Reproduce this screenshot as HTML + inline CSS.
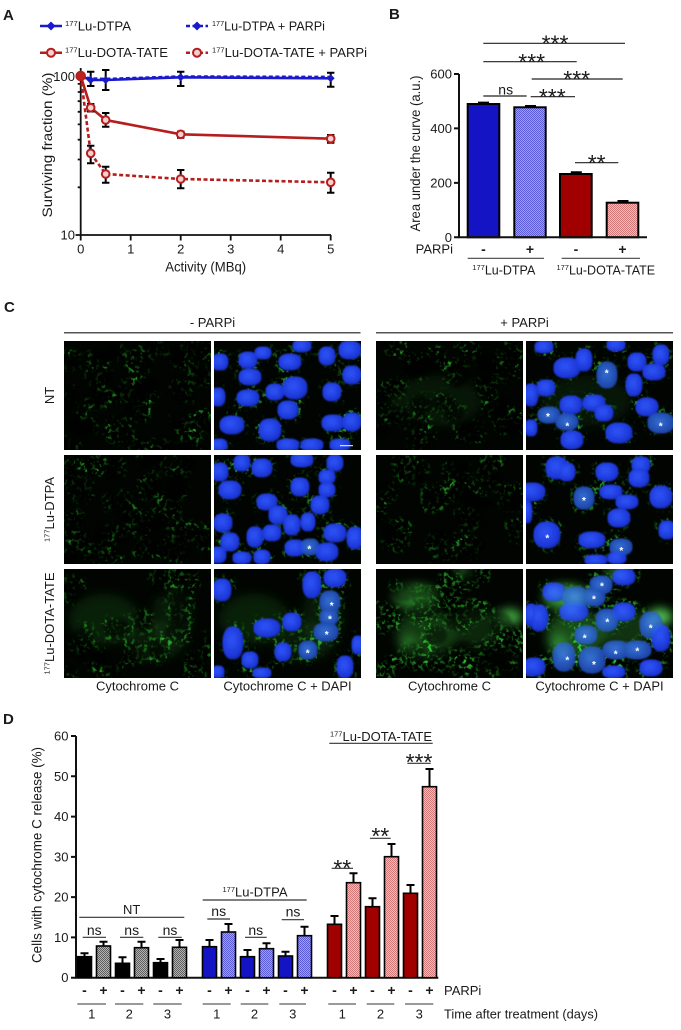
<!DOCTYPE html>
<html><head><meta charset="utf-8">
<style>
html,body{margin:0;padding:0;background:#fff;}
svg{display:block;}
text{font-family:"Liberation Sans",Arial,sans-serif;fill:#1a1a1a;}
.b{font-weight:bold;}
.st{fill:#fff;font-size:10px;font-weight:bold;text-anchor:middle;}
</style></head><body>
<svg width="681" height="1030" viewBox="0 0 681 1030" xmlns="http://www.w3.org/2000/svg">
<defs>
<pattern id="hb" width="2" height="2" patternUnits="userSpaceOnUse"><rect width="2" height="2" fill="#a2a2f4"/><rect width="1" height="1" fill="#5a5ad8"/><rect x="1" y="1" width="1" height="1" fill="#5a5ad8"/></pattern>
<pattern id="hp" width="2" height="2" patternUnits="userSpaceOnUse"><rect width="2" height="2" fill="#f4bcbc"/><rect width="1" height="1" fill="#d27878"/><rect x="1" y="1" width="1" height="1" fill="#d27878"/></pattern>
<pattern id="hg" width="2" height="2" patternUnits="userSpaceOnUse"><rect width="2" height="2" fill="#b4b4b4"/><rect width="1" height="1" fill="#5e5e5e"/><rect x="1" y="1" width="1" height="1" fill="#5e5e5e"/></pattern>
<radialGradient id="nuc" cx="0.42" cy="0.4" r="0.65"><stop offset="0" stop-color="#2c50f2"/><stop offset="0.75" stop-color="#1c36d6"/><stop offset="1" stop-color="#10208e"/></radialGradient>
<radialGradient id="nucd" cx="0.45" cy="0.45" r="0.65"><stop offset="0" stop-color="#3068cc"/><stop offset="0.75" stop-color="#1e46aa"/><stop offset="1" stop-color="#10286e"/></radialGradient>
<filter id="soft" x="-20%" y="-20%" width="140%" height="140%"><feMorphology operator="dilate" radius="1.6"/><feGaussianBlur stdDeviation="0.8"/></filter>
<filter id="blk" filterUnits="userSpaceOnUse" x="0" y="0" width="147" height="109"><feFlood flood-color="#000"/><feComposite in2="SourceAlpha" operator="in"/><feMorphology operator="dilate" radius="1"/><feGaussianBlur stdDeviation="1.5"/></filter>
<filter id="hz" filterUnits="userSpaceOnUse" x="-20" y="-20" width="187" height="149"><feGaussianBlur stdDeviation="5"/></filter>

<filter id="gN1" filterUnits="userSpaceOnUse" x="0" y="0" width="147" height="109" color-interpolation-filters="sRGB"><feMorphology in="SourceAlpha" operator="dilate" radius="4" result="d"/><feGaussianBlur in="d" stdDeviation="2.5" result="m"/><feTurbulence type="fractalNoise" baseFrequency="0.05" numOctaves="1" seed="4" result="t2"/><feColorMatrix in="t2" type="matrix" values="0 0 0 0 0 0 0 0 0 0 0 0 0 0 0 3.5 0 0 0 -1.3" result="c"/><feTurbulence type="fractalNoise" baseFrequency="0.25" numOctaves="2" seed="3" result="t"/><feColorMatrix in="t" type="matrix" values="0 0 0 0 0.16 0 0 0 0 0.72 0 0 0 0 0.16 5 0 0 0 -2.6" result="g"/><feComposite in="g" in2="c" operator="in" result="g2"/><feComposite in="g2" in2="m" operator="in"/></filter>
<filter id="gN2" filterUnits="userSpaceOnUse" x="0" y="0" width="147" height="109" color-interpolation-filters="sRGB"><feMorphology in="SourceAlpha" operator="dilate" radius="4" result="d"/><feGaussianBlur in="d" stdDeviation="2.5" result="m"/><feTurbulence type="fractalNoise" baseFrequency="0.05" numOctaves="1" seed="8" result="t2"/><feColorMatrix in="t2" type="matrix" values="0 0 0 0 0 0 0 0 0 0 0 0 0 0 0 3.5 0 0 0 -1.3" result="c"/><feTurbulence type="fractalNoise" baseFrequency="0.25" numOctaves="2" seed="7" result="t"/><feColorMatrix in="t" type="matrix" values="0 0 0 0 0.16 0 0 0 0 0.72 0 0 0 0 0.16 5 0 0 0 -2.6" result="g"/><feComposite in="g" in2="c" operator="in" result="g2"/><feComposite in="g2" in2="m" operator="in"/></filter>
<filter id="gN3" filterUnits="userSpaceOnUse" x="0" y="0" width="147" height="109" color-interpolation-filters="sRGB"><feMorphology in="SourceAlpha" operator="dilate" radius="4.5" result="d"/><feGaussianBlur in="d" stdDeviation="2.5" result="m"/><feTurbulence type="fractalNoise" baseFrequency="0.05" numOctaves="1" seed="14" result="t2"/><feColorMatrix in="t2" type="matrix" values="0 0 0 0 0 0 0 0 0 0 0 0 0 0 0 3.5 0 0 0 -1.2" result="c"/><feTurbulence type="fractalNoise" baseFrequency="0.25" numOctaves="2" seed="13" result="t"/><feColorMatrix in="t" type="matrix" values="0 0 0 0 0.16 0 0 0 0 0.72 0 0 0 0 0.16 5 0 0 0 -2.55" result="g"/><feComposite in="g" in2="c" operator="in" result="g2"/><feComposite in="g2" in2="m" operator="in"/></filter>
<filter id="gP1" filterUnits="userSpaceOnUse" x="0" y="0" width="147" height="109" color-interpolation-filters="sRGB"><feMorphology in="SourceAlpha" operator="dilate" radius="4" result="d"/><feGaussianBlur in="d" stdDeviation="2.5" result="m"/><feTurbulence type="fractalNoise" baseFrequency="0.05" numOctaves="1" seed="22" result="t2"/><feColorMatrix in="t2" type="matrix" values="0 0 0 0 0 0 0 0 0 0 0 0 0 0 0 3.5 0 0 0 -1.3" result="c"/><feTurbulence type="fractalNoise" baseFrequency="0.25" numOctaves="2" seed="21" result="t"/><feColorMatrix in="t" type="matrix" values="0 0 0 0 0.16 0 0 0 0 0.72 0 0 0 0 0.16 5 0 0 0 -2.65" result="g"/><feComposite in="g" in2="c" operator="in" result="g2"/><feComposite in="g2" in2="m" operator="in"/></filter>
<filter id="gP2" filterUnits="userSpaceOnUse" x="0" y="0" width="147" height="109" color-interpolation-filters="sRGB"><feMorphology in="SourceAlpha" operator="dilate" radius="4" result="d"/><feGaussianBlur in="d" stdDeviation="2.5" result="m"/><feTurbulence type="fractalNoise" baseFrequency="0.05" numOctaves="1" seed="30" result="t2"/><feColorMatrix in="t2" type="matrix" values="0 0 0 0 0 0 0 0 0 0 0 0 0 0 0 3.5 0 0 0 -1.3" result="c"/><feTurbulence type="fractalNoise" baseFrequency="0.25" numOctaves="2" seed="29" result="t"/><feColorMatrix in="t" type="matrix" values="0 0 0 0 0.16 0 0 0 0 0.72 0 0 0 0 0.16 5 0 0 0 -2.6" result="g"/><feComposite in="g" in2="c" operator="in" result="g2"/><feComposite in="g2" in2="m" operator="in"/></filter>
<filter id="gP3" filterUnits="userSpaceOnUse" x="0" y="0" width="147" height="109" color-interpolation-filters="sRGB"><feMorphology in="SourceAlpha" operator="dilate" radius="4.5" result="d"/><feGaussianBlur in="d" stdDeviation="2.5" result="m"/><feTurbulence type="fractalNoise" baseFrequency="0.05" numOctaves="1" seed="38" result="t2"/><feColorMatrix in="t2" type="matrix" values="0 0 0 0 0 0 0 0 0 0 0 0 0 0 0 3.5 0 0 0 -1.2" result="c"/><feTurbulence type="fractalNoise" baseFrequency="0.25" numOctaves="2" seed="37" result="t"/><feColorMatrix in="t" type="matrix" values="0 0 0 0 0.18 0 0 0 0 0.76 0 0 0 0 0.18 5 0 0 0 -2.5" result="g"/><feComposite in="g" in2="c" operator="in" result="g2"/><feComposite in="g2" in2="m" operator="in"/></filter>

<g id="nN1" fill="url(#nuc)">
<ellipse cx="6" cy="21" rx="7" ry="7"/><ellipse cx="34" cy="19" rx="8" ry="7"/><ellipse cx="49" cy="12" rx="7" ry="5"/><ellipse cx="36" cy="36" rx="10" ry="7"/><ellipse cx="76" cy="21" rx="10" ry="7"/><ellipse cx="88" cy="5" rx="8" ry="5"/><ellipse cx="113" cy="15" rx="7" ry="8"/><ellipse cx="136" cy="9" rx="10" ry="8"/><ellipse cx="138" cy="34" rx="8" ry="8"/><ellipse cx="4" cy="56" rx="6" ry="8"/><ellipse cx="34" cy="57" rx="10" ry="7"/><ellipse cx="61" cy="51" rx="8" ry="7"/><ellipse cx="81" cy="47" rx="11" ry="10"/><ellipse cx="74" cy="69" rx="9" ry="8"/><ellipse cx="118" cy="51" rx="8" ry="8"/><ellipse cx="18" cy="84" rx="11" ry="8"/><ellipse cx="56" cy="89" rx="10" ry="10"/><ellipse cx="119" cy="82" rx="10" ry="7"/><ellipse cx="138" cy="81" rx="8" ry="8"/><ellipse cx="74" cy="104" rx="10" ry="5"/><ellipse cx="98" cy="104" rx="10" ry="5"/><ellipse cx="126" cy="104" rx="9" ry="5"/><ellipse cx="5" cy="104" rx="7" ry="5"/>
</g>
<g id="nN2" fill="url(#nuc)">
<ellipse cx="6" cy="17" rx="7" ry="8"/><ellipse cx="28" cy="8" rx="7" ry="7"/><ellipse cx="48" cy="13" rx="9" ry="8"/><ellipse cx="88" cy="5" rx="10" ry="6"/><ellipse cx="121" cy="8" rx="7" ry="7"/><ellipse cx="16" cy="35" rx="10" ry="8"/><ellipse cx="53" cy="47" rx="9" ry="7"/><ellipse cx="86" cy="32" rx="8" ry="8"/><ellipse cx="113" cy="22" rx="7" ry="6"/><ellipse cx="113" cy="35" rx="7" ry="6"/><ellipse cx="106" cy="50" rx="8" ry="8"/><ellipse cx="64" cy="60" rx="8" ry="8"/><ellipse cx="9" cy="68" rx="8" ry="8"/><ellipse cx="41" cy="82" rx="7" ry="9"/><ellipse cx="58" cy="78" rx="8" ry="7"/><ellipse cx="78" cy="70" rx="7" ry="9"/><ellipse cx="94" cy="67" rx="6" ry="8"/><ellipse cx="121" cy="78" rx="10" ry="8"/><ellipse cx="16" cy="87" rx="8" ry="8"/><ellipse cx="81" cy="93" rx="9" ry="7"/><ellipse cx="96" cy="92" rx="8" ry="7" fill="url(#nucd)"/><ellipse cx="113" cy="97" rx="10" ry="8"/><ellipse cx="141" cy="83" rx="7" ry="10"/><ellipse cx="4" cy="100" rx="7" ry="7"/><ellipse cx="28" cy="103" rx="8" ry="5"/><ellipse cx="48" cy="102" rx="7" ry="6"/>
</g>
<g id="nN3" fill="url(#nuc)">
<ellipse cx="8" cy="21" rx="8" ry="10"/><ellipse cx="98" cy="16" rx="8" ry="12"/><ellipse cx="121" cy="9" rx="10" ry="8"/><ellipse cx="53" cy="59" rx="12" ry="8"/><ellipse cx="78" cy="53" rx="8" ry="8"/><ellipse cx="19" cy="74" rx="9" ry="15"/><ellipse cx="36" cy="91" rx="7" ry="7"/><ellipse cx="69" cy="83" rx="7" ry="8"/><ellipse cx="94" cy="81" rx="8" ry="8" fill="url(#nucd)"/><ellipse cx="112" cy="63" rx="11" ry="8" fill="url(#nucd)"/><ellipse cx="116" cy="33" rx="9" ry="10" fill="url(#nucd)"/><ellipse cx="115" cy="48" rx="8" ry="7" fill="url(#nucd)"/><ellipse cx="131" cy="98" rx="7" ry="10"/><ellipse cx="144" cy="76" rx="5" ry="8"/><ellipse cx="48" cy="104" rx="8" ry="4"/><ellipse cx="4" cy="103" rx="5" ry="5"/>
</g>
<g id="nP1" fill="url(#nuc)">
<ellipse cx="41" cy="27" rx="12" ry="9"/><ellipse cx="58" cy="19" rx="7" ry="10"/><ellipse cx="20" cy="47" rx="8" ry="7"/><ellipse cx="81" cy="34" rx="9" ry="12" fill="url(#nucd)"/><ellipse cx="108" cy="44" rx="7" ry="10"/><ellipse cx="111" cy="21" rx="8" ry="8"/><ellipse cx="128" cy="31" rx="10" ry="7"/><ellipse cx="135" cy="14" rx="7" ry="9"/><ellipse cx="5" cy="54" rx="6" ry="10"/><ellipse cx="68" cy="62" rx="10" ry="7"/><ellipse cx="45" cy="64" rx="10" ry="8"/><ellipse cx="78" cy="72" rx="8" ry="7"/><ellipse cx="121" cy="66" rx="10" ry="8"/><ellipse cx="23" cy="74" rx="10" ry="7" fill="url(#nucd)"/><ellipse cx="41" cy="81" rx="10" ry="7" fill="url(#nucd)"/><ellipse cx="135" cy="82" rx="12" ry="9" fill="url(#nucd)"/><ellipse cx="93" cy="92" rx="12" ry="9"/><ellipse cx="46" cy="99" rx="10" ry="8"/><ellipse cx="5" cy="87" rx="5" ry="7"/><ellipse cx="90" cy="4" rx="8" ry="5"/><ellipse cx="18" cy="6" rx="8" ry="5"/>
</g>
<g id="nP2" fill="url(#nuc)">
<ellipse cx="31" cy="13" rx="10" ry="10"/><ellipse cx="41" cy="17" rx="7" ry="8"/><ellipse cx="6" cy="37" rx="12" ry="8"/><ellipse cx="1" cy="57" rx="4" ry="10"/><ellipse cx="58" cy="43" rx="9" ry="10" fill="url(#nucd)"/><ellipse cx="81" cy="17" rx="10" ry="8"/><ellipse cx="85" cy="37" rx="10" ry="6"/><ellipse cx="101" cy="47" rx="10" ry="6"/><ellipse cx="113" cy="23" rx="9" ry="8"/><ellipse cx="115" cy="10" rx="8" ry="7"/><ellipse cx="135" cy="42" rx="10" ry="10"/><ellipse cx="93" cy="63" rx="10" ry="8"/><ellipse cx="21" cy="80" rx="12" ry="12"/><ellipse cx="66" cy="85" rx="12" ry="7"/><ellipse cx="95" cy="92" rx="10" ry="7" fill="url(#nucd)"/><ellipse cx="141" cy="75" rx="7" ry="8"/><ellipse cx="70" cy="105" rx="10" ry="4"/><ellipse cx="91" cy="103" rx="8" ry="5"/>
</g>
<g id="nP3" fill="url(#nucd)">
<ellipse cx="75" cy="16" rx="10" ry="8"/><ellipse cx="98" cy="8" rx="10" ry="7" fill="url(#nuc)"/><ellipse cx="28" cy="23" rx="10" ry="8" fill="url(#nuc)"/><ellipse cx="50" cy="29" rx="12" ry="10"/><ellipse cx="68" cy="28" rx="10" ry="8"/><ellipse cx="13" cy="49" rx="8" ry="12" fill="url(#nuc)"/><ellipse cx="48" cy="43" rx="13" ry="8" fill="url(#nuc)"/><ellipse cx="81" cy="51" rx="10" ry="10"/><ellipse cx="98" cy="43" rx="10" ry="8" fill="url(#nuc)"/><ellipse cx="125" cy="56" rx="10" ry="12"/><ellipse cx="5" cy="46" rx="5" ry="10" fill="url(#nuc)"/><ellipse cx="60" cy="66" rx="10" ry="8"/><ellipse cx="38" cy="88" rx="10" ry="13"/><ellipse cx="66" cy="91" rx="12" ry="12"/><ellipse cx="90" cy="81" rx="12" ry="8"/><ellipse cx="111" cy="81" rx="13" ry="8"/><ellipse cx="135" cy="69" rx="8" ry="12" fill="url(#nuc)"/><ellipse cx="8" cy="98" rx="10" ry="8" fill="url(#nuc)"/><ellipse cx="125" cy="99" rx="10" ry="7" fill="url(#nuc)"/><ellipse cx="88" cy="103" rx="10" ry="5" fill="url(#nuc)"/>
</g>
<g id="dN3" filter="url(#hz)" fill="#2a8a2a">
<ellipse cx="40" cy="50" rx="35" ry="25" opacity=".2"/><ellipse cx="90" cy="72" rx="30" ry="20" opacity=".16"/><ellipse cx="108" cy="48" rx="20" ry="30" opacity=".16"/>
</g>
<g id="dP1" filter="url(#hz)" fill="#2a8a2a">
<ellipse cx="60" cy="60" rx="45" ry="25" opacity=".14"/>
</g>
<g id="dP3" filter="url(#hz)">
<ellipse cx="40" cy="28" rx="22" ry="12" fill="#44cc44" opacity=".6"/><ellipse cx="134" cy="48" rx="12" ry="8" fill="#55e055" opacity=".75"/><ellipse cx="88" cy="3" rx="8" ry="4" fill="#44cc44" opacity=".6"/><ellipse cx="50" cy="66" rx="30" ry="24" fill="#38a838" opacity=".32"/><ellipse cx="33" cy="75" rx="8" ry="10" fill="#44cc44" opacity=".35"/><ellipse cx="100" cy="60" rx="25" ry="20" fill="#38a838" opacity=".2"/>
</g>
</defs>

<rect width="681" height="1030" fill="#fff"/>

<!-- ================= PANEL A ================= -->
<text x="3" y="20" font-size="15" class="b">A</text>
<line x1="40" y1="26" x2="62" y2="26" stroke="#1a1acc" stroke-width="2.5"/>
<path d="M51 21.5L55.5 26L51 30.5L46.5 26Z" fill="#1a1acc"/>
<text x="65" y="30.5" font-size="13" textLength="66" lengthAdjust="spacingAndGlyphs"><tspan font-size="7.5" dy="-4.5">177</tspan><tspan dy="4.5">Lu-DTPA</tspan></text>
<line x1="186" y1="26" x2="208" y2="26" stroke="#1a1acc" stroke-width="2.5" stroke-dasharray="4 2.5"/>
<path d="M197 21.5L201.5 26L197 30.5L192.5 26Z" fill="#1a1acc"/>
<text x="212" y="30.5" font-size="13" textLength="113" lengthAdjust="spacingAndGlyphs"><tspan font-size="7.5" dy="-4.5">177</tspan><tspan dy="4.5">Lu-DTPA + PARPi</tspan></text>
<line x1="40" y1="52.7" x2="62" y2="52.7" stroke="#b41e1e" stroke-width="2.5"/>
<circle cx="51" cy="52.7" r="4" fill="#f6d0d0" stroke="#b41e1e" stroke-width="2"/>
<text x="65" y="57.2" font-size="13" textLength="103" lengthAdjust="spacingAndGlyphs"><tspan font-size="7.5" dy="-4.5">177</tspan><tspan dy="4.5">Lu-DOTA-TATE</tspan></text>
<line x1="186" y1="52.7" x2="208" y2="52.7" stroke="#b41e1e" stroke-width="2.5" stroke-dasharray="4 2.5"/>
<circle cx="197" cy="52.7" r="4" fill="#f6d0d0" stroke="#b41e1e" stroke-width="2"/>
<text x="212" y="57.2" font-size="13" textLength="155" lengthAdjust="spacingAndGlyphs"><tspan font-size="7.5" dy="-4.5">177</tspan><tspan dy="4.5">Lu-DOTA-TATE + PARPi</tspan></text>

<g stroke="#111" stroke-width="1.8" fill="none">
<path d="M80.7 68V235H331"/>
<path d="M75.5 76.7H80.7M75.5 235H80.7"/>
<path d="M77.7 187.3H80.7M77.7 159.5H80.7M77.7 139.7H80.7M77.7 124.4H80.7M77.7 111.8H80.7M77.7 101.2H80.7M77.7 92H80.7M77.7 83.9H80.7"/>
<path d="M80.7 235V240.5M130.7 235V240.5M180.7 235V240.5M230.7 235V240.5M280.7 235V240.5M330.7 235V240.5"/>
</g>
<g font-size="13" text-anchor="end"><text x="75" y="81.2">100</text><text x="75" y="239.6">10</text></g>
<g font-size="13" text-anchor="middle">
<text x="80.7" y="253.5">0</text><text x="130.7" y="253.5">1</text><text x="180.7" y="253.5">2</text><text x="230.7" y="253.5">3</text><text x="280.7" y="253.5">4</text><text x="330.7" y="253.5">5</text>
<text x="205.7" y="271.5" font-size="14" textLength="81" lengthAdjust="spacingAndGlyphs">Activity (MBq)</text>
</g>
<text transform="translate(52,145) rotate(-90)" text-anchor="middle" font-size="14" textLength="145" lengthAdjust="spacingAndGlyphs">Surviving fraction (%)</text>

<polyline points="80.7,76 90.7,80 105.7,80 180.7,77.3 330.7,78.3" fill="none" stroke="#1a1acc" stroke-width="2.6"/>
<polyline points="80.7,76 90.7,78.5 105.7,79 180.7,76.5 330.7,77" fill="none" stroke="#1a1acc" stroke-width="2.6" stroke-dasharray="4 2.5"/>
<polyline points="80.7,76 90.7,107.7 105.7,120 180.7,134.3 330.7,138.7" fill="none" stroke="#b41e1e" stroke-width="2.6"/>
<polyline points="80.7,76 90.7,153.3 105.7,174 180.7,179 330.7,182.3" fill="none" stroke="#b41e1e" stroke-width="2.6" stroke-dasharray="4 2.5"/>
<g stroke="#000" stroke-width="2" fill="none">
<path d="M90.7 71.7V86M87 71.7H94.4M87 86H94.4"/>
<path d="M105.7 70V90M102 70H109.4M102 90H109.4"/>
<path d="M180.7 71.7V86M177 71.7H184.4M177 86H184.4"/>
<path d="M330.7 72.7V86.7M327 72.7H334.4M327 86.7H334.4"/>
<path d="M90.7 104V111.5M87 104H94.4M87 111.5H94.4"/>
<path d="M105.7 113V126.7M102 113H109.4M102 126.7H109.4"/>
<path d="M180.7 131.5V137.7M177 131.5H184.4M177 137.7H184.4"/>
<path d="M330.7 135V142.7M327 135H334.4M327 142.7H334.4"/>
<path d="M90.7 145.7V163.3M87 145.7H94.4M87 163.3H94.4"/>
<path d="M105.7 166.7V182.7M102 166.7H109.4M102 182.7H109.4"/>
<path d="M180.7 170V188.3M177 170H184.4M177 188.3H184.4"/>
<path d="M330.7 172.7V192.7M327 172.7H334.4M327 192.7H334.4"/>
</g>
<g fill="#1a1acc">
<path d="M90.7 76L94.7 80L90.7 84L86.7 80Z"/><path d="M105.7 76L109.7 80L105.7 84L101.7 80Z"/><path d="M180.7 73.3L184.7 77.3L180.7 81.3L176.7 77.3Z"/><path d="M330.7 74.3L334.7 78.3L330.7 82.3L326.7 78.3Z"/>
</g>
<g fill="#f6d0d0" stroke="#b41e1e" stroke-width="2">
<circle cx="90.7" cy="107.7" r="3.8"/><circle cx="105.7" cy="120" r="3.8"/><circle cx="180.7" cy="134.3" r="3.8"/><circle cx="330.7" cy="138.7" r="3.8"/>
<circle cx="90.7" cy="153.3" r="3.8"/><circle cx="105.7" cy="174" r="3.8"/><circle cx="180.7" cy="179" r="3.8"/><circle cx="330.7" cy="182.3" r="3.8"/>
</g>
<circle cx="80.7" cy="76" r="4.5" fill="#c02020" stroke="#b41e1e" stroke-width="1.5"/>

<!-- ================= PANEL B ================= -->
<text x="389" y="19" font-size="15" class="b">B</text>
<g stroke="#222" stroke-width="1.2">
<path d="M483.3 43.3H625M483.3 61.7H576.7M531.7 79H622.7M483.3 96H526.7M530.7 96.7H575M575 162.7H618.3"/>
</g>
<g font-size="23" text-anchor="middle">
<text x="555" y="51.4">***</text><text x="531.7" y="69.8">***</text><text x="576.7" y="87.1">***</text><text x="552.3" y="104.8">***</text><text x="596.7" y="170.8">**</text>
</g>
<text x="505.7" y="94.3" font-size="14" text-anchor="middle">ns</text>
<rect x="467.7" y="104" width="31.6" height="133.3" fill="#1414c4" stroke="#000" stroke-width="2"/>
<rect x="514.3" y="107.3" width="31.4" height="130" fill="url(#hb)" stroke="#000" stroke-width="2"/>
<rect x="560" y="174" width="31.7" height="63.3" fill="#a00000" stroke="#000" stroke-width="2"/>
<rect x="606.7" y="202.7" width="31.6" height="34.6" fill="url(#hp)" stroke="#000" stroke-width="2"/>
<g stroke="#000" stroke-width="2"><path d="M478 102.6H489M525 106H536M570.8 172.3H581.8M617.5 201H628.5"/></g>
<g stroke="#111" stroke-width="2" fill="none">
<path d="M459 74V237.3H647"/>
<path d="M454 74H459M454 128.4H459M454 182.9H459M454 237.3H459"/>
</g>
<g font-size="13" text-anchor="end"><text x="452" y="78.6">600</text><text x="452" y="133">400</text><text x="452" y="187.5">200</text><text x="452" y="241.9">0</text></g>
<text transform="translate(420,153.5) rotate(-90)" text-anchor="middle" font-size="14" textLength="156" lengthAdjust="spacingAndGlyphs">Area under the curve (a.u.)</text>
<text x="453" y="253.3" font-size="13" text-anchor="end">PARPi</text>
<g font-size="14" class="b" text-anchor="middle"><text x="483.5" y="254.2">-</text><text x="530" y="254.2">+</text><text x="576" y="254.2">-</text><text x="622.5" y="254.2">+</text></g>
<path d="M467.7 258.3H544M561.7 258.3H640" stroke="#444" stroke-width="1.1"/>
<text x="503.8" y="274.3" font-size="12.5" text-anchor="middle"><tspan font-size="7.5" dy="-4.5">177</tspan><tspan dy="4.5">Lu-DTPA</tspan></text>
<text x="605.8" y="274.3" font-size="12.5" text-anchor="middle"><tspan font-size="7.5" dy="-4.5">177</tspan><tspan dy="4.5">Lu-DOTA-TATE</tspan></text>

<!-- ================= PANEL C ================= -->
<text x="4" y="312" font-size="15" class="b">C</text>
<text x="212.5" y="327" font-size="13" text-anchor="middle">- PARPi</text>
<text x="524.5" y="327" font-size="13" text-anchor="middle">+ PARPi</text>
<path d="M64 332.7H360.5M376 332.7H673" stroke="#555" stroke-width="1.5"/>
<text transform="translate(54,395.5) rotate(-90)" font-size="13" text-anchor="middle">NT</text>
<text transform="translate(54,509.5) rotate(-90)" font-size="13" text-anchor="middle"><tspan font-size="7.5" dy="-4.5">177</tspan><tspan dy="4.5">Lu-DTPA</tspan></text>
<text transform="translate(54,623.5) rotate(-90)" font-size="13" text-anchor="middle"><tspan font-size="7.5" dy="-4.5">177</tspan><tspan dy="4.5">Lu-DOTA-TATE</tspan></text>

<!-- row 1 -->
<svg x="64" y="341" width="147" height="109" viewBox="0 0 147 109"><rect width="147" height="109" fill="#010401"/><use href="#nN1" filter="url(#gN1)"/><use href="#nN1" filter="url(#blk)" opacity="0.7"/></svg>
<svg x="214" y="341" width="147" height="109" viewBox="0 0 147 109"><rect width="147" height="109" fill="#010401"/><use href="#nN1" filter="url(#gN1)"/><use href="#nN1" filter="url(#soft)"/><line x1="126" y1="104.7" x2="139" y2="104.7" stroke="#fff" stroke-width="1"/></svg>
<svg x="376" y="341" width="147" height="109" viewBox="0 0 147 109"><rect width="147" height="109" fill="#010401"/><use href="#dP1"/><use href="#nP1" filter="url(#gP1)"/><use href="#nP1" filter="url(#blk)" opacity="0.65"/></svg>
<svg x="526" y="341" width="147" height="109" viewBox="0 0 147 109"><rect width="147" height="109" fill="#010401"/><use href="#dP1"/><use href="#nP1" filter="url(#gP1)"/><use href="#nP1" filter="url(#soft)"/>
<text class="st" x="80.7" y="35.7">*</text><text class="st" x="22" y="79">*</text><text class="st" x="41.3" y="88.4">*</text><text class="st" x="134.7" y="88.4">*</text></svg>
<!-- row 2 -->
<svg x="64" y="455" width="147" height="109" viewBox="0 0 147 109"><rect width="147" height="109" fill="#010401"/><use href="#nN2" filter="url(#gN2)"/><use href="#nN2" filter="url(#blk)" opacity="0.7"/></svg>
<svg x="214" y="455" width="147" height="109" viewBox="0 0 147 109"><rect width="147" height="109" fill="#010401"/><use href="#nN2" filter="url(#gN2)"/><use href="#nN2" filter="url(#soft)"/><text class="st" x="95.3" y="97.4">*</text></svg>
<svg x="376" y="455" width="147" height="109" viewBox="0 0 147 109"><rect width="147" height="109" fill="#010401"/><use href="#nP2" filter="url(#gP2)"/><use href="#nP2" filter="url(#blk)" opacity="0.7"/></svg>
<svg x="526" y="455" width="147" height="109" viewBox="0 0 147 109"><rect width="147" height="109" fill="#010401"/><use href="#nP2" filter="url(#gP2)"/><use href="#nP2" filter="url(#soft)"/>
<text class="st" x="58" y="49">*</text><text class="st" x="21.3" y="86.4">*</text><text class="st" x="95.3" y="99">*</text></svg>
<!-- row 3 -->
<svg x="64" y="569" width="147" height="109" viewBox="0 0 147 109"><rect width="147" height="109" fill="#010401"/><use href="#dN3"/><use href="#nN3" filter="url(#gN3)"/><use href="#nN3" filter="url(#blk)" opacity="0.5"/></svg>
<svg x="214" y="569" width="147" height="109" viewBox="0 0 147 109"><rect width="147" height="109" fill="#010401"/><use href="#dN3"/><use href="#nN3" filter="url(#gN3)"/><use href="#nN3" filter="url(#soft)"/>
<text class="st" x="117.7" y="40">*</text><text class="st" x="116" y="53.4">*</text><text class="st" x="112.7" y="69">*</text><text class="st" x="93.7" y="87.4">*</text></svg>
<svg x="376" y="569" width="147" height="109" viewBox="0 0 147 109"><rect width="147" height="109" fill="#010401"/><use href="#dP3"/><use href="#nP3" filter="url(#gP3)"/><use href="#nP3" filter="url(#blk)" opacity="0.4"/></svg>
<svg x="526" y="569" width="147" height="109" viewBox="0 0 147 109"><rect width="147" height="109" fill="#010401"/><use href="#dP3"/><use href="#nP3" filter="url(#gP3)"/><use href="#nP3" filter="url(#soft)"/><use href="#dP3" opacity="0.4" style="mix-blend-mode:screen"/>
<text class="st" x="76" y="20.7">*</text><text class="st" x="68" y="33.4">*</text><text class="st" x="81.3" y="56.7">*</text><text class="st" x="124.7" y="62.4">*</text><text class="st" x="58.7" y="72.4">*</text><text class="st" x="89.7" y="88.4">*</text><text class="st" x="111.3" y="85.7">*</text><text class="st" x="41.3" y="94.4">*</text><text class="st" x="68" y="99">*</text></svg>

<g font-size="13" text-anchor="middle">
<text x="137.5" y="690.5">Cytochrome C</text><text x="287.5" y="690.5">Cytochrome C + DAPI</text>
<text x="449.5" y="690.5">Cytochrome C</text><text x="599.5" y="690.5">Cytochrome C + DAPI</text>
</g>

<!-- ================= PANEL D ================= -->
<text x="3" y="724" font-size="15" class="b">D</text>
<g stroke="#111" stroke-width="2" fill="none">
<path d="M76 736V977.7H438.3"/>
<path d="M71 736H76M71 776.3H76M71 816.6H76M71 856.9H76M71 897.1H76M71 937.4H76M71 977.7H76"/>
</g>
<g font-size="13" text-anchor="end">
<text x="68.5" y="740.5">60</text><text x="68.5" y="780.8">50</text><text x="68.5" y="821.1">40</text><text x="68.5" y="861.4">30</text><text x="68.5" y="901.6">20</text><text x="68.5" y="941.9">10</text><text x="68.5" y="982.2">0</text>
</g>
<text transform="translate(41.5,855) rotate(-90)" text-anchor="middle" font-size="14" textLength="216" lengthAdjust="spacingAndGlyphs">Cells with cytochrome C release (%)</text>

<g stroke="#000" stroke-width="1.6">
<rect x="77.5" y="956.7" width="14" height="21" fill="#000"/>
<rect x="96.5" y="946" width="14" height="31.7" fill="url(#hg)"/>
<rect x="115.5" y="963.3" width="14" height="14.4" fill="#000"/>
<rect x="134.5" y="947.7" width="14" height="30" fill="url(#hg)"/>
<rect x="153.5" y="962.7" width="14" height="15" fill="#000"/>
<rect x="172.5" y="947.3" width="14" height="30.4" fill="url(#hg)"/>
<rect x="202.5" y="946.7" width="14" height="31" fill="#1414c4"/>
<rect x="221.5" y="932" width="14" height="45.7" fill="url(#hb)"/>
<rect x="240.5" y="956.7" width="14" height="21" fill="#1414c4"/>
<rect x="259.5" y="948.7" width="14" height="29" fill="url(#hb)"/>
<rect x="278.5" y="956" width="14" height="21.7" fill="#1414c4"/>
<rect x="297.5" y="935.7" width="14" height="42" fill="url(#hb)"/>
<rect x="327.5" y="924.3" width="14" height="53.4" fill="#a00000"/>
<rect x="346.5" y="882.7" width="14" height="95" fill="url(#hp)"/>
<rect x="365.5" y="906.7" width="14" height="71" fill="#a00000"/>
<rect x="384.5" y="856.7" width="14" height="121" fill="url(#hp)"/>
<rect x="403.5" y="893.3" width="14" height="84.4" fill="#a00000"/>
<rect x="422.5" y="786.7" width="14" height="191" fill="url(#hp)"/>
</g>
<g stroke="#000" stroke-width="2" fill="none">
<path d="M84.5 956.7V953.3M80.5 953.3H88.5"/>
<path d="M103.5 946V941.7M99.5 941.7H107.5"/>
<path d="M122.5 963.3V957.3M118.5 957.3H126.5"/>
<path d="M141.5 947.7V941.7M137.5 941.7H145.5"/>
<path d="M160.5 962.7V959M156.5 959H164.5"/>
<path d="M179.5 947.3V940M175.5 940H183.5"/>
<path d="M209.5 946.7V940M205.5 940H213.5"/>
<path d="M228.5 932V924M224.5 924H232.5"/>
<path d="M247.5 956.7V950M243.5 950H251.5"/>
<path d="M266.5 948.7V943.3M262.5 943.3H270.5"/>
<path d="M285.5 956V951.7M281.5 951.7H289.5"/>
<path d="M304.5 935.7V926.7M300.5 926.7H308.5"/>
<path d="M334.5 924.3V916M330.5 916H338.5"/>
<path d="M353.5 882.7V873.3M349.5 873.3H357.5"/>
<path d="M372.5 906.7V898.3M368.5 898.3H376.5"/>
<path d="M391.5 856.7V844M387.5 844H395.5"/>
<path d="M410.5 893.3V885M406.5 885H414.5"/>
<path d="M429.5 786.7V769M425.5 769H433.5"/>
</g>

<g stroke="#333" stroke-width="1.2">
<path d="M79.3 917.3H184.3M82.7 937.3H106M120 937.3H143.3M158.3 937.3H181.7"/>
<path d="M202.7 900H306.7M207.3 919H230M245 937.3H266.7M281.7 919.7H304"/>
<path d="M329.3 743.3H432.7M331.7 868.3H353M370 838.3H390.7M407.3 763.3H430.7"/>
</g>
<g font-size="13" text-anchor="middle">
<text x="131.7" y="914">NT</text>
<text x="255" y="896.7"><tspan font-size="7.5" dy="-4.5">177</tspan><tspan dy="4.5">Lu-DTPA</tspan></text>
<text x="381" y="741"><tspan font-size="7.5" dy="-4.5">177</tspan><tspan dy="4.5">Lu-DOTA-TATE</tspan></text>
</g>
<g font-size="14" text-anchor="middle">
<text x="94.3" y="935">ns</text><text x="131.7" y="935">ns</text><text x="170" y="935">ns</text>
<text x="218.7" y="916">ns</text><text x="255.8" y="935">ns</text><text x="293" y="916.5">ns</text>
</g>
<g font-size="23" text-anchor="middle">
<text x="342.3" y="875.9">**</text><text x="380.3" y="843.9">**</text><text x="419" y="769.8">***</text>
</g>
<g font-size="14" class="b" text-anchor="middle">
<text x="84.5" y="994.9">-</text><text x="103.5" y="994.9">+</text><text x="122.5" y="994.9">-</text><text x="141.5" y="994.9">+</text><text x="160.5" y="994.9">-</text><text x="179.5" y="994.9">+</text>
<text x="209.5" y="994.9">-</text><text x="228.5" y="994.9">+</text><text x="247.5" y="994.9">-</text><text x="266.5" y="994.9">+</text><text x="285.5" y="994.9">-</text><text x="304.5" y="994.9">+</text>
<text x="334.5" y="994.9">-</text><text x="353.5" y="994.9">+</text><text x="372.5" y="994.9">-</text><text x="391.5" y="994.9">+</text><text x="410.5" y="994.9">-</text><text x="429.5" y="994.9">+</text>
</g>
<text x="444" y="995" font-size="13">PARPi</text>
<path d="M77.3 1004H106M115 1004H143.3M153.3 1004H181.7M202.7 1004H230.7M240.7 1004H268.3M279.3 1004H306M328.3 1004H356M366.7 1004H394.3M405 1004H433.3" stroke="#333" stroke-width="1.1"/>
<g font-size="13" text-anchor="middle">
<text x="91.7" y="1018.5">1</text><text x="129.2" y="1018.5">2</text><text x="167.5" y="1018.5">3</text>
<text x="216.7" y="1018.5">1</text><text x="254.5" y="1018.5">2</text><text x="292.7" y="1018.5">3</text>
<text x="342.2" y="1018.5">1</text><text x="380.5" y="1018.5">2</text><text x="419.2" y="1018.5">3</text>
</g>
<text x="444" y="1018.5" font-size="13" textLength="154" lengthAdjust="spacingAndGlyphs">Time after treatment (days)</text>
</svg>
</body></html>
